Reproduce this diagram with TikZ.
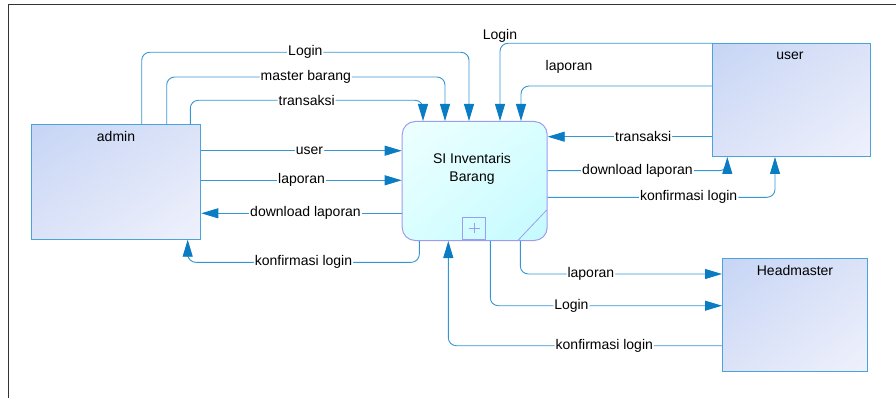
\documentclass[tikz,border=0pt]{standalone}
\usepackage{fontspec}
\setmainfont{Liberation Sans}
\usetikzlibrary{arrows.meta,shadings}
\definecolor{lineblue}{HTML}{3596D4}
\definecolor{tipblue}{HTML}{0A7CC4}
\definecolor{entborder}{HTML}{4AA3DA}
\definecolor{entA}{HTML}{C6D5F5}
\definecolor{entM}{HTML}{DCE3F8}
\definecolor{entB}{HTML}{EFF1FC}
\definecolor{procborder}{HTML}{9C9CF0}
\definecolor{procA}{HTML}{EEFFFF}
\definecolor{procM}{HTML}{DAFEFF}
\definecolor{procB}{HTML}{C4FAFF}
\begin{document}
\begin{tikzpicture}[x=1pt,y=-1pt,
  font=\fontsize{14}{17}\selectfont,
  entity/.style={draw=entborder, line width=1pt, anchor=north west, inner sep=0pt,
    upper left=entA, upper right=entM, lower left=entM, lower right=entB},
  process/.style={draw=procborder, line width=1pt, rounded corners=13pt, anchor=north west, inner sep=0pt,
    upper left=procA, upper right=procM, lower left=procM, lower right=procB},
  flow/.style={draw=lineblue, line width=0.9pt, rounded corners=8pt,
    -{Triangle[length=17pt,width=10pt,color=tipblue]}},
  lbl/.style={fill=white, inner sep=1pt, text=black},
]
\useasboundingbox (0,0) rectangle (896,398);
\draw[line width=1.3pt, draw=black!80] (8.5,398) -- (8.5,4.5) -- (896,4.5);

% entities
\node[entity, minimum width=169pt, minimum height=114.4pt] (admin) at (31.3,124.3) {};
\node (adminlbl) at (116,136.5) {admin};
\node[entity, minimum width=157.4pt, minimum height=112.7pt] (user) at (712.3,43.3) {};
\node (userlbl) at (790,55.5) {user};
\node[entity, minimum width=145.3pt, minimum height=113pt] (head) at (722,258.3) {};
\node (headlbl) at (795,270) {Headmaster};

% process
\node[process, minimum width=145pt, minimum height=119pt] (si) at (401.7,121) {};
\node[align=center, font=\fontsize{14}{18}\selectfont] (sitext) at (472,169) {SI Inventaris\\Barang};
\node[draw=procborder, line width=0.8pt, anchor=south west, minimum width=23pt, minimum height=22.3pt, inner sep=0pt] (plusbox) at (462.3,240) {};
\draw[procborder, line width=0.6pt] (plusbox.center) ++(-5.5,0) -- ++(11,0);
\draw[procborder, line width=0.6pt] (plusbox.center) ++(0,-5) -- ++(0,10);
\draw[procborder, line width=0.8pt] (518.3,240) -- (546.7,210);

% admin flows
\draw[flow] (141.7,0 |- admin.north) -- (141.7,52.3) -- node[lbl]{Login} (469,52.3) -- (469,0 |- si.north);
\draw[flow] (166.7,0 |- admin.north) -- (166.7,77) -- node[lbl]{master barang} (445,77) -- (445,0 |- si.north);
\draw[flow] (190.3,0 |- admin.north) -- (190.3,100.3) -- node[lbl]{transaksi} (423,100.3) -- (423,0 |- si.north);
\draw[flow] (admin.east |- 0,150.7) -- node[lbl,pos=0.54]{user} (si.west |- 0,150.7);
\draw[flow] (admin.east |- 0,180.3) -- node[lbl]{laporan} (si.west |- 0,180.3);
\draw[flow] (si.west |- 0,213.3) -- node[lbl,pos=0.48]{download laporan} (admin.east |- 0,213.3);
\draw[flow] (419.3,0 |- si.south) -- (419.3,262.3) -- node[lbl]{konfirmasi login} (187.7,262.3) -- (187.7,0 |- admin.south);

% user flows
\draw[flow] (user.north west) -| (500,0 |- si.north);
\node (ulogin) at (500,35.5) {Login};
\draw[flow] (user.west |- 0,86) -| (521,0 |- si.north);
\node (ulap) at (569,66.5) {laporan};
\draw[flow] (user.west |- 0,136.7) -- node[lbl,pos=0.42]{transaksi} (si.east |- 0,136.7);
\draw[flow] (si.east |- 0,170.7) -- node[lbl]{download laporan} (727.3,170.7) -- (727.3,0 |- user.south);
\draw[flow] (si.east |- 0,197.3) -- node[lbl,pos=0.62]{konfirmasi login} (775,197.3) -- (775,0 |- user.south);

% headmaster flows
\draw[flow] (520.3,0 |- si.south) -- (520.3,274) -- node[lbl,pos=0.35]{laporan} (head.west |- 0,274);
\draw[flow] (490.3,0 |- si.south) -- (490.3,305.7) -- node[lbl,pos=0.35]{Login} (head.west |- 0,305.7);
\draw[flow] (head.west |- 0,345.7) -- node[lbl,pos=0.43]{konfirmasi login} (448.3,345.7) -- (448.3,0 |- si.south);
\end{tikzpicture}
\end{document}
